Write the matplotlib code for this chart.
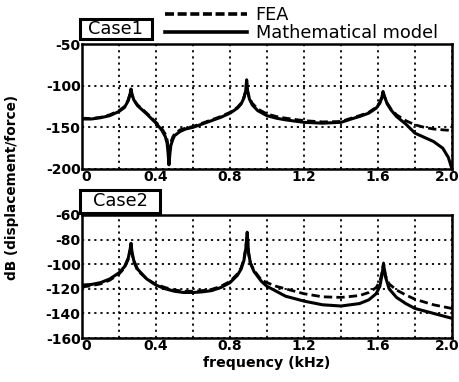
import matplotlib
matplotlib.use('Agg')
import matplotlib.pyplot as plt
import matplotlib.transforms as mtransforms
from matplotlib.lines import Line2D
from matplotlib.patches import Rectangle

# Case1: frequency (kHz) and response (dB)
freq1 = [0, 0.05, 0.1, 0.15, 0.2, 0.23, 0.25, 0.26, 0.265, 0.27, 0.28, 0.3, 0.35, 0.4,
         0.43, 0.45, 0.46, 0.465, 0.47, 0.475, 0.48, 0.49, 0.5, 0.53, 0.56, 0.6, 0.65, 0.7,
         0.75, 0.8, 0.84, 0.86, 0.875, 0.885, 0.89, 0.895, 0.905, 0.92, 0.95, 1.0,
         1.05, 1.1, 1.2, 1.3, 1.4, 1.47, 1.5, 1.55, 1.59, 1.61, 1.62, 1.627, 1.635,
         1.65, 1.67, 1.7, 1.75, 1.8, 1.85, 1.9, 1.95, 1.98, 2.0]
model1 = [-140, -140, -138.5, -136, -131, -126, -118, -110, -104, -110, -117, -124, -134, -145,
          -153, -161, -169, -180, -195, -182, -172, -165, -160, -155, -152, -150, -146, -142,
          -138, -133, -127, -122, -115, -106, -93, -106, -116, -123, -130, -136,
          -139, -141, -144, -145, -144, -139, -137, -133, -127, -121, -115, -107, -113,
          -122, -129, -137, -146, -157, -162, -167, -175, -186, -200]
fea1 = [-139, -139.5, -138, -135, -130, -125, -117, -109, -105, -111, -117, -123, -133, -144,
        -151, -158, -165, -172, -180, -176, -168, -162, -158, -153, -151, -149, -145, -141,
        -137, -132, -126, -121, -114, -107, -95, -107, -115, -121, -128, -134,
        -137, -139, -142, -143.5, -143, -138, -136, -132, -126, -120, -114, -108, -113,
        -121, -128, -135, -142, -147, -150, -152, -153, -153.5, -154]

# Case2
freq2 = [0, 0.05, 0.1, 0.15, 0.2, 0.23, 0.25, 0.26, 0.265, 0.27, 0.28, 0.3, 0.35, 0.4,
         0.45, 0.5, 0.55, 0.6, 0.65, 0.7, 0.75, 0.8, 0.84, 0.86, 0.875, 0.885, 0.893,
         0.9, 0.91, 0.93, 0.97, 1.0, 1.05, 1.1, 1.2, 1.3, 1.4, 1.5, 1.55, 1.59, 1.61,
         1.62, 1.63, 1.64, 1.66, 1.7, 1.75, 1.8, 1.9, 2.0]
model2 = [-117, -116.5, -115, -112, -107, -102, -95, -88, -83, -90, -97, -104, -112, -117,
          -120, -122, -123, -123, -122.5, -121.5, -119, -115, -109, -104, -97, -88, -74,
          -90, -99, -106, -114, -118, -122, -126, -130, -133, -134, -132, -129, -124, -118,
          -110, -100, -110, -120, -127, -132, -136, -140, -144]
fea2 = [-118.5, -117.5, -116, -113, -108, -103, -96, -89, -85, -91, -98, -105, -112, -116.5,
        -119, -121, -122, -122, -121.5, -120.5, -118, -114, -108, -103, -96, -87, -76,
        -91, -99, -105, -113, -115, -118, -120, -124, -126.5, -127, -125.5, -123, -119, -114,
        -108, -99, -109, -116, -121, -125, -128.5, -133, -136]

xticks = [0, 0.2, 0.4, 0.6, 0.8, 1.0, 1.2, 1.4, 1.6, 1.8, 2.0]
xticklabels = ['0', '', '0.4', '', '0.8', '', '1.2', '', '1.6', '', '2.0']
yticks1 = [-200, -150, -100, -50]
yticks2 = [-160, -140, -120, -100, -80, -60]

W, H = 460, 382
fig = plt.figure(figsize=(W / 100, H / 100), dpi=100)
fig.patch.set_facecolor('white')

ax1 = fig.add_axes([82 / W, 1 - 169 / H, 370 / W, 125 / H])
ax2 = fig.add_axes([82 / W, 1 - 338 / H, 370 / W, 123 / H])

grid_style = dict(color='black', linestyle=(0, (1.2, 2.2)), linewidth=1.3)


def shift(label, dx):
    # nudge a tick label sideways by dx pixels
    label.set_transform(label.get_transform() +
                        mtransforms.ScaledTranslation(dx / 100, 0, fig.dpi_scale_trans))


for ax, f, m, fe, yt, ylim in [(ax1, freq1, model1, fea1, yticks1, (-200, -50)),
                               (ax2, freq2, model2, fea2, yticks2, (-160, -60))]:
    ax.plot(f, fe, color='black', linestyle=(0, (3, 1.5)), linewidth=2.0)
    ax.plot(f, m, color='black', linestyle='-', linewidth=2.2)
    ax.set_xlim(0, 2.0)
    ax.set_ylim(*ylim)
    ax.set_xticks(xticks)
    ax.set_xticklabels(xticklabels)
    ax.set_yticks(yt)
    ax.set_yticklabels([str(v) for v in yt])
    ax.grid(True, **grid_style)
    ax.tick_params(length=0, pad=1, labelsize=10)
    ax.tick_params(axis='y', pad=1)
    for lab in ax.get_xticklabels() + ax.get_yticklabels():
        lab.set_fontweight('bold')
    shift(ax.get_xticklabels()[0], 4)
    shift(ax.get_xticklabels()[-1], -5)
    for sp in ax.spines.values():
        sp.set_linewidth(1.8)

ax2.set_xlabel('frequency (kHz)', fontsize=10.2, fontweight='bold', labelpad=2)
fig.text(12.5 / W, 1 - 188 / H, 'dB (displacement/force)', rotation=90,
         ha='center', va='center', fontsize=9.8, fontweight='bold')

# case boxes
for (x0, y0, x1, y1), name in [((80, 19, 152, 39), 'Case1'), ((80, 190, 160, 213), 'Case2')]:
    fig.add_artist(Rectangle((x0 / W, 1 - y1 / H), (x1 - x0) / W, (y1 - y0) / H,
                             transform=fig.transFigure, facecolor='white',
                             edgecolor='black', linewidth=2.2))
    fig.text((x0 + x1) / 2 / W, 1 - (y0 + y1) / 2 / H, name, ha='center', va='center',
             fontsize=12.8)

handles = [Line2D([], [], color='black', linestyle=(0, (2.5, 1)), linewidth=2.6),
           Line2D([], [], color='black', linestyle='-', linewidth=2.6)]
fig.legend(handles, ['FEA', 'Mathematical model'], loc='lower left',
           bbox_to_anchor=(165 / W, 1 - 42 / H), frameon=False, fontsize=12.8,
           handlelength=4.6, handletextpad=0.5, labelspacing=0.0,
           borderpad=0, borderaxespad=0)

fig.savefig('out.png', dpi=100, facecolor='white')
